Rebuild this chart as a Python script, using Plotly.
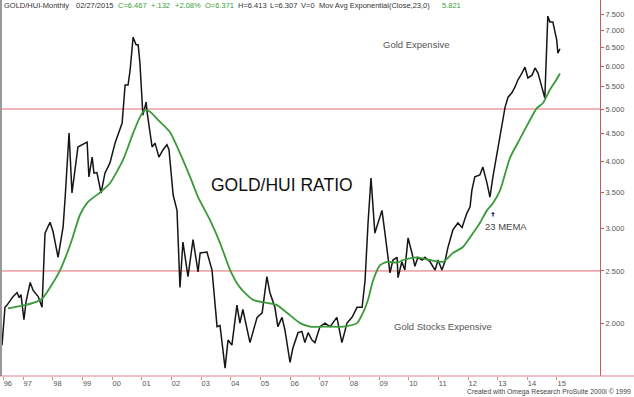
import plotly.graph_objects as go

# ---- data ----
ratio_t = [1996.29, 1996.39, 1996.46, 1996.66, 1996.80, 1996.87, 1996.93, 1997.03, 1997.10, 1997.24,
           1997.34, 1997.51, 1997.64, 1997.74, 1997.91, 1998.01, 1998.18, 1998.35, 1998.42, 1998.55,
           1998.65, 1998.85, 1999.09, 1999.16, 1999.22, 1999.33, 1999.39, 1999.49, 1999.63, 1999.76,
           1999.93, 2000.10, 2000.34, 2000.44, 2000.54, 2000.61, 2000.71, 2000.81, 2000.88, 2000.94,
           2001.04, 2001.15, 2001.18, 2001.35, 2001.45, 2001.58, 2001.72, 2001.85, 2001.92, 2002.06,
           2002.19, 2002.29, 2002.39, 2002.56, 2002.73, 2002.90, 2002.97, 2003.20, 2003.37, 2003.54,
           2003.64, 2003.81, 2003.91, 2004.04, 2004.21, 2004.31, 2004.41, 2004.65, 2004.89, 2005.06,
           2005.22, 2005.32, 2005.49, 2005.59, 2005.73, 2005.83, 2006.00, 2006.10, 2006.27, 2006.40,
           2006.50, 2006.61, 2006.74, 2006.84, 2007.01, 2007.18, 2007.35, 2007.58, 2007.75, 2007.92,
           2008.09, 2008.26, 2008.43, 2008.53, 2008.63, 2008.73, 2008.86, 2009.10, 2009.20, 2009.30,
           2009.37, 2009.47, 2009.61, 2009.64, 2009.77, 2009.87, 2009.98, 2010.11, 2010.21, 2010.31,
           2010.45, 2010.55, 2010.72, 2010.89, 2010.99, 2011.12, 2011.22, 2011.32, 2011.49, 2011.66,
           2011.80, 2011.96, 2012.07, 2012.13, 2012.23, 2012.40, 2012.50, 2012.64, 2012.74, 2012.84,
           2012.98, 2013.08, 2013.18, 2013.25, 2013.35, 2013.48, 2013.58, 2013.68, 2013.82, 2013.92,
           2014.02, 2014.16, 2014.26, 2014.36, 2014.49, 2014.59, 2014.69, 2014.76, 2014.86, 2014.99,
           2015.03, 2015.10]
ratio_v = [1.82, 2.14, 2.16, 2.24, 2.28, 2.23, 2.26, 2.03, 2.19, 2.38,
           2.30, 2.24, 2.14, 2.94, 3.08, 2.96, 2.65, 3.02, 3.43, 4.51,
           3.49, 4.25, 4.32, 4.34, 3.74, 4.07, 3.80, 3.81, 3.49, 3.80,
           3.97, 4.32, 4.71, 5.54, 5.54, 5.91, 6.80, 6.58, 6.58, 6.09,
           4.87, 5.15, 4.94, 4.25, 4.32, 4.07, 4.20, 4.29, 4.20, 3.46,
           3.24, 2.33, 2.83, 2.44, 2.86, 2.49, 2.70, 2.71, 2.51, 1.97,
           1.98, 1.65, 1.86, 1.82, 2.16, 2.00, 2.12, 1.84, 2.05, 2.09,
           2.44, 2.28, 2.14, 1.97, 2.05, 1.94, 1.69, 1.80, 1.92, 1.93,
           1.84, 1.92, 1.86, 1.84, 1.97, 2.00, 1.97, 2.05, 1.84, 2.00,
           2.05, 2.14, 2.14, 2.40, 3.07, 3.72, 2.94, 3.24, 2.94, 2.65,
           2.48, 2.62, 2.65, 2.43, 2.60, 2.51, 2.88, 2.70, 2.55, 2.65,
           2.62, 2.65, 2.60, 2.51, 2.62, 2.51, 2.60, 2.76, 2.98, 3.07,
           3.01, 3.20, 3.29, 3.53, 3.74, 3.77, 3.90, 3.64, 3.43, 3.74,
           4.14, 4.44, 4.83, 5.04, 5.26, 5.36, 5.49, 5.66, 5.83, 5.98,
           5.71, 5.78, 5.96, 5.83, 5.49, 5.24, 7.44, 7.26, 7.26, 6.72,
           6.35, 6.47]

ema_t = [1996.49, 1996.90, 1997.34, 1997.64, 1997.91, 1998.25, 1998.52, 1998.65, 1998.92, 1999.19,
         1999.60, 1999.93, 2000.37, 2000.71, 2000.94, 2001.11, 2001.28, 2001.62, 2001.95, 2002.29,
         2002.63, 2002.90, 2003.30, 2003.64, 2003.98, 2004.31, 2004.75, 2005.22, 2005.56, 2005.90,
         2006.34, 2006.67, 2007.25, 2007.79, 2008.26, 2008.46, 2008.63, 2008.80, 2009.03, 2009.27,
         2009.61, 2009.81, 2010.28, 2010.72, 2011.16, 2011.49, 2011.83, 2012.17, 2012.40, 2012.64,
         2012.84, 2013.08, 2013.41, 2013.75, 2014.09, 2014.32, 2014.53, 2014.76, 2014.99, 2015.10]
ema_v = [2.13, 2.15, 2.18, 2.22, 2.33, 2.51, 2.73, 2.86, 3.18, 3.36,
         3.50, 3.64, 4.02, 4.51, 4.83, 4.98, 4.94, 4.73, 4.53, 4.14,
         3.74, 3.43, 3.11, 2.82, 2.51, 2.33, 2.21, 2.18, 2.16, 2.09,
         2.00, 1.97, 1.97, 1.97, 2.00, 2.09, 2.21, 2.40, 2.56, 2.60,
         2.59, 2.62, 2.65, 2.62, 2.60, 2.70, 2.77, 2.94, 3.07, 3.24,
         3.34, 3.53, 4.05, 4.40, 4.77, 5.02, 5.13, 5.43, 5.68, 5.82]

levels = [5.0, 2.5]
year_ticks = [1996.33] + list(range(1997, 2016))
year_labels = ["96", "97", "98", "99", "00", "01", "02", "03", "04", "05", "06",
               "07", "08", "09", "10", "11", "12", "13", "14", "15"]
price_ticks = [2.0, 2.5, 3.0, 3.5, 4.0, 4.5, 5.0, 5.5, 6.0, 6.5, 7.0, 7.5]
price_labels = [f"{v:.3f}" for v in price_ticks]

X_RANGE = [1996.29, 2016.45]
Y_RANGE = [0.2027, 0.9016]  # log10

FONT = "Arial, Liberation Sans, sans-serif"
W, H = 634, 397
L, R, T, B = 2, 34, 0, 21
PW, PH = W - L - R, H - T - B


def px(x):
    return (x - L) / PW


def py(y):
    return (T + PH - y) / PH


fig = go.Figure()

for lv in levels:
    fig.add_trace(go.Scatter(x=X_RANGE, y=[lv, lv], mode="lines",
                             line=dict(color="#e06a70", width=1), hoverinfo="skip",
                             showlegend=False))

fig.add_trace(go.Scatter(x=ratio_t, y=ratio_v, mode="lines",
                         line=dict(color="#151515", width=1.5), showlegend=False))
fig.add_trace(go.Scatter(x=ema_t, y=ema_v, mode="lines",
                         line=dict(color="#3a9a3a", width=1.8, shape="spline", smoothing=0.6),
                         showlegend=False))

anns = []
hdr = [("GOLD/HUI-Monthly", 2, "#333333"), ("02/27/2015", 74, "#333333"),
       ("C=6.467", 116, "#3aa03a"), ("+.132", 149, "#3aa03a"), ("+2.08%", 173, "#3aa03a"),
       ("O=6.371", 203, "#3aa03a"), ("H=6.413", 236, "#333333"), ("L=6.307", 268, "#333333"),
       ("V=0", 299, "#333333"), ("Mov Avg Exponential(Close,23,0)", 317, "#333333"),
       ("5.821", 440, "#3aa03a")]
for txt, x0, col in hdr:
    anns.append(dict(text=txt, x=px(x0), y=py(6), xref="paper", yref="paper",
                     xanchor="left", yanchor="middle", showarrow=False,
                     font=dict(family=FONT, size=7.5, color=col)))

anns.append(dict(text="Gold Expensive", x=px(381), y=py(44), xref="paper", yref="paper",
                 xanchor="left", yanchor="middle", showarrow=False,
                 font=dict(family=FONT, size=9.5, color="#555555")))
anns.append(dict(text="GOLD/HUI RATIO", x=px(209), y=py(185), xref="paper", yref="paper",
                 xanchor="left", yanchor="middle", showarrow=False,
                 font=dict(family=FONT, size=17.5, color="#111111")))
anns.append(dict(text="23 MEMA", x=px(483), y=py(226), xref="paper", yref="paper",
                 xanchor="left", yanchor="middle", showarrow=False,
                 font=dict(family=FONT, size=9.5, color="#444444")))
anns.append(dict(text="", x=px(493), y=py(212), xref="paper", yref="paper",
                 showarrow=True, ax=0, ay=6, arrowhead=1, arrowsize=0.5, arrowwidth=1.3,
                 arrowcolor="#1a2a80"))
anns.append(dict(text="Gold Stocks Expensive", x=px(392), y=py(326), xref="paper", yref="paper",
                 xanchor="left", yanchor="middle", showarrow=False,
                 font=dict(family=FONT, size=9.5, color="#555555")))
anns.append(dict(text="Created with Omega Research ProSuite 2000i \u00a9 1999", x=px(633), y=py(392),
                 xref="paper", yref="paper", xanchor="right", yanchor="middle", showarrow=False,
                 font=dict(family=FONT, size=6.8, color="#444444")))

shapes = [
    dict(type="line", xref="paper", yref="paper", x0=px(0), x1=px(634), y0=0, y1=0,
         line=dict(color="#d9868e", width=1.2)),
    dict(type="line", xref="paper", yref="paper", x0=px(1), x1=px(1), y0=0, y1=1,
         line=dict(color="#777777", width=1.5)),
]

fig.update_layout(
    width=W, height=H,
    margin=dict(l=L, r=R, t=T, b=B),
    paper_bgcolor="white", plot_bgcolor="white",
    annotations=anns, shapes=shapes,
    xaxis=dict(range=X_RANGE, showgrid=False, zeroline=False,
               tickmode="array", tickvals=year_ticks, ticktext=year_labels,
               ticks="outside", ticklen=3, tickcolor="#d9868e", tickwidth=1,
               ticklabelposition="outside right", ticklabelstandoff=0,
               tickfont=dict(family=FONT, size=7.5, color="#555555"),
               showline=False),
    yaxis=dict(type="log", range=Y_RANGE, side="right", showgrid=False, zeroline=False,
               tickmode="array", tickvals=price_ticks, ticktext=price_labels,
               ticks="outside", ticklen=3, tickcolor="#c85a64",
               tickfont=dict(family=FONT, size=7.5, color="#555555"),
               showline=True, linecolor="#c85a64", linewidth=1.2),
)

fig.write_html("out.html")
